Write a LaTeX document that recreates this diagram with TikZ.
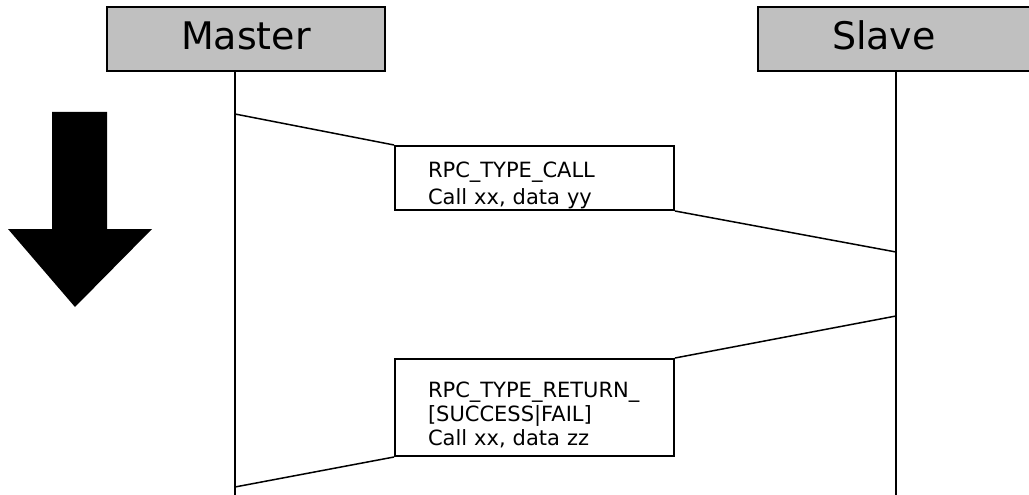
\documentclass[tikz,border=0pt]{standalone}
\usepackage{fontspec}
\setmainfont{DejaVu Sans}
\definecolor{actorgray}{HTML}{C0C0C0}
\tikzset{
  actor/.style={draw, line width=2pt, fill=actorgray, anchor=north west,
    font=\fontsize{38}{42}\selectfont, text width=130pt, inner xsep=74pt,
    align=left, minimum height=64pt},
  msgbox/.style={draw, line width=2pt, fill=white, anchor=north west,
    text width=213pt, inner xsep=33pt, inner ysep=0pt, align=left},
  lifeline/.style={line width=1.5pt},
  msgline/.style={line width=1.5pt}
}
\newcommand{\firstline}{\rule{0pt}{30pt}}
\newcommand{\actorname}[1]{\raisebox{3pt}[28pt][0pt]{#1}}
\begin{document}
\begin{tikzpicture}[x=1pt,y=-1pt]
\clip (0,0) rectangle (1029,495);
\fill[white] (0,0) rectangle (1029,495);

% Lifelines
\coordinate (mtop) at (235,70);
\coordinate (mbot) at (235,495);
\coordinate (stop) at (896,70);
\coordinate (sbot) at (896,495);
\draw[lifeline] (mtop) -- (mbot);
\draw[lifeline] (stop) -- (sbot);

% Actors
\node[actor] (master) at (106,6) {\actorname{Master}};
\node[actor] (slave) at (757,6) {\actorname{Slave}};

% Messages
\node[msgbox, minimum height=64pt, font=\fontsize{21}{27}\selectfont] (call) at (394,145)
  {\firstline RPC\_TYPE\_CALL\\Call xx, data yy};
\node[msgbox, minimum height=97pt, font=\fontsize{21}{24}\selectfont] (ret) at (394,358)
  {\firstline RPC\_TYPE\_RETURN\_\\{}[SUCCESS|FAIL]\\Call xx, data zz};

% Connectors
\coordinate (mcall) at (235,114);
\coordinate (scall) at (896,252);
\coordinate (sret) at (896,316);
\coordinate (mret) at (235,487);
\draw[msgline] (mcall) -- (call.north west);
\draw[msgline] (call.south east) -- (scall);
\draw[msgline] (sret) -- (ret.north east);
\draw[msgline] (ret.south west) -- (mret);

% Time arrow
\fill[black] (52,112) -- (107,112) -- (107,229) -- (152,229) -- (75,307)
  -- (8,229) -- (52,229) -- cycle;
\end{tikzpicture}
\end{document}
